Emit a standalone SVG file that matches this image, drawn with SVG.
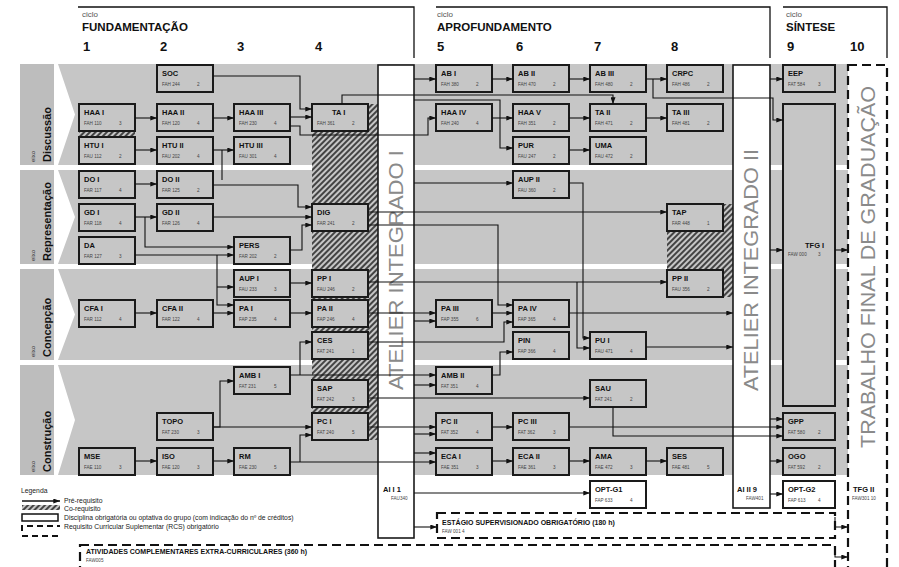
<svg xmlns="http://www.w3.org/2000/svg" width="899" height="567" viewBox="0 0 899 567">
<defs>
<marker id="a" viewBox="0 0 8 6" refX="8" refY="3" markerWidth="7" markerHeight="5" markerUnits="userSpaceOnUse" orient="auto"><path d="M0,0L8,3L0,6z" fill="#111"/></marker>
<pattern id="h" width="4" height="4" patternUnits="userSpaceOnUse" patternTransform="rotate(45)"><rect width="4" height="4" fill="#c6c6c6"/><line x1="1" y1="0" x2="1" y2="4" stroke="#222" stroke-width="1.6"/></pattern>
</defs>
<style>
.band{fill:#c6c6c6}
.lab{fill:#bdbdbd}
.n rect{fill:#c6c6c6;stroke:#1a1a1a;stroke-width:2}
.n.w rect{fill:#fff}
.t{font-family:"Liberation Sans",Arial,sans-serif;font-weight:bold;font-size:7.5px;fill:#111}
.c{font-family:"Liberation Sans",Arial,sans-serif;font-size:4.6px;fill:#444}
.hd{font-family:"Liberation Sans",Arial,sans-serif;fill:#111}
.cy{font-size:8px;fill:#555}
.cn{font-size:11.5px;font-weight:bold}
.num{font-size:13px;font-weight:bold}
.ex{font-family:"Liberation Sans",Arial,sans-serif;font-size:6px;fill:#333}
.ax{font-family:"Liberation Sans",Arial,sans-serif;font-size:11px;font-weight:bold;fill:#111}
.big{font-family:"Liberation Sans",Arial,sans-serif;font-size:21px;fill:#8a8a8a}
.at rect{fill:#fff;stroke:#1a1a1a;stroke-width:1.6}
.e path{fill:none;stroke:#111;stroke-width:1.1;marker-end:url(#a)}
.e path.nm{marker-end:none}
.dash{fill:none;stroke:#111;stroke-width:2.2;stroke-dasharray:9,5}
.lg{font-family:"Liberation Sans",Arial,sans-serif;font-size:6.8px;fill:#222}
.bt{font-family:"Liberation Sans",Arial,sans-serif;font-weight:bold;font-size:7px;fill:#111}
</style>
<rect width="899" height="567" fill="#fff"/>

<!-- headers -->
<g id="headers" class="hd">
<path d="M78,7H414V58M436,7H770V58M783,7H887V58" fill="none" stroke="#111" stroke-width="1.3"/>
<text x="82" y="17" class="hd cy">ciclo</text>
<text x="82" y="31" class="hd cn">FUNDAMENTAÇÃO</text>
<text x="437" y="17" class="hd cy">ciclo</text>
<text x="437" y="31" class="hd cn">APROFUNDAMENTO</text>
<text x="786" y="17" class="hd cy">ciclo</text>
<text x="786" y="31" class="hd cn">SÍNTESE</text>
<text x="83" y="51" class="hd num">1</text>
<text x="160" y="51" class="hd num">2</text>
<text x="237" y="51" class="hd num">3</text>
<text x="315" y="51" class="hd num">4</text>
<text x="437" y="51" class="hd num">5</text>
<text x="516" y="51" class="hd num">6</text>
<text x="594" y="51" class="hd num">7</text>
<text x="671" y="51" class="hd num">8</text>
<text x="787" y="51" class="hd num">9</text>
<text x="850" y="51" class="hd num">10</text>
</g>

<!-- bands -->
<g id="bands">
<rect class="lab" x="20" y="64" width="34" height="101"/>
<polygon class="band" points="58,64 848,64 848,165 58,165 75,114.5"/>
<rect class="lab" x="20" y="170" width="34" height="94"/>
<polygon class="band" points="58,170 848,170 848,264 58,264 75,217"/>
<rect class="lab" x="20" y="269" width="34" height="91"/>
<polygon class="band" points="58,269 848,269 848,360 58,360 75,314.5"/>
<rect class="lab" x="20" y="365" width="34" height="110"/>
<polygon class="band" points="58,365 848,365 848,475 58,475 75,420"/>
<text class="ex" transform="translate(35,162) rotate(-90)">eixo</text>
<text class="ax" transform="translate(51,162) rotate(-90)">Discussão</text>
<text class="ex" transform="translate(35,261) rotate(-90)">eixo</text>
<text class="ax" transform="translate(51,261) rotate(-90)">Representação</text>
<text class="ex" transform="translate(35,357) rotate(-90)">eixo</text>
<text class="ax" transform="translate(51,357) rotate(-90)">Concepção</text>
<text class="ex" transform="translate(35,472) rotate(-90)">eixo</text>
<text class="ax" transform="translate(51,472) rotate(-90)">Construção</text>
</g>

<!-- co-requisite hatches -->
<g id="hatches">
<rect x="79" y="131" width="56" height="6" fill="url(#h)"/>
<rect x="312" y="104" width="66" height="336" fill="url(#h)"/>
<rect x="667" y="204" width="66" height="93" fill="url(#h)"/>
</g>

<!-- ateliers and TFG frame -->
<g id="atelier1" class="at">
<rect x="378" y="65" width="36" height="473"/>
<text class="big" text-anchor="middle" transform="translate(403,270) rotate(-90)" textLength="240" lengthAdjust="spacingAndGlyphs">ATELIER INTEGRADO I</text>
<text class="t" x="383" y="492">AI I 1</text>
<text class="c" x="391" y="500">FAU340</text>
</g>
<g id="atelier2" class="at">
<rect x="733" y="65" width="37" height="443"/>
<text class="big" text-anchor="middle" transform="translate(758,270) rotate(-90)" textLength="242" lengthAdjust="spacingAndGlyphs">ATELIER INTEGRADO II</text>
<text class="t" x="737" y="492">AI II 9</text>
<text class="c" x="746" y="500">FAW401</text>
</g>
<g id="tfg">
<rect x="848" y="65" width="39" height="510" class="dash"/>
<text class="big" font-size="22" text-anchor="middle" transform="translate(875,267) rotate(-90)" textLength="362" lengthAdjust="spacingAndGlyphs">TRABALHO FINAL DE GRADUAÇÃO</text>
<text class="t" x="853" y="492">TFG II</text>
<text class="c" x="852" y="500">FAW301 10</text>
</g>

<!-- supplementary requirements -->
<g id="estagio">
<rect x="437" y="513" width="398" height="25" class="dash"/>
<text class="bt" x="442" y="525">ESTÁGIO SUPERVISIONADO OBRIGATÓRIO (180 h)</text>
<text class="c" x="442" y="533">FAW 001      4</text>
</g>
<g id="atividades">
<rect x="80" y="545" width="755" height="30" class="dash"/>
<text class="bt" x="86" y="554">ATIVIDADES COMPLEMENTARES EXTRA-CURRICULARES (360 h)</text>
<text class="c" x="86" y="562">FAW005</text>
</g>

<!-- nodes -->
<g id="SOC" class="n"><rect x="157" y="65" width="56" height="27"/><text class="t" x="162" y="76">SOC</text><text class="c" x="162" y="86">FAH 244</text><text class="c" x="197" y="86">2</text></g>
<g id="HAA1" class="n"><rect x="79" y="104" width="56" height="27"/><text class="t" x="84" y="115">HAA I</text><text class="c" x="84" y="125">FAH 110</text><text class="c" x="119" y="125">3</text></g>
<g id="HAA2" class="n"><rect x="157" y="104" width="56" height="27"/><text class="t" x="162" y="115">HAA II</text><text class="c" x="162" y="125">FAH 120</text><text class="c" x="197" y="125">4</text></g>
<g id="HAA3" class="n"><rect x="234" y="104" width="56" height="27"/><text class="t" x="239" y="115">HAA III</text><text class="c" x="239" y="125">FAH 230</text><text class="c" x="274" y="125">4</text></g>
<g id="TA1" class="n"><rect x="312" y="104" width="56" height="27"/><text class="t" x="332" y="115">TA I</text><text class="c" x="317" y="125">FAH 361</text><text class="c" x="352" y="125">2</text></g>
<g id="HTU1" class="n"><rect x="79" y="137" width="56" height="27"/><text class="t" x="84" y="148">HTU I</text><text class="c" x="84" y="158">FAU 112</text><text class="c" x="119" y="158">2</text></g>
<g id="HTU2" class="n"><rect x="157" y="137" width="56" height="27"/><text class="t" x="162" y="148">HTU II</text><text class="c" x="162" y="158">FAU 202</text><text class="c" x="197" y="158">4</text></g>
<g id="HTU3" class="n"><rect x="234" y="137" width="56" height="27"/><text class="t" x="239" y="148">HTU III</text><text class="c" x="239" y="158">FAU 301</text><text class="c" x="274" y="158">4</text></g>
<g id="DO1" class="n"><rect x="79" y="171" width="56" height="27"/><text class="t" x="84" y="182">DO I</text><text class="c" x="84" y="192">FAR 117</text><text class="c" x="119" y="192">4</text></g>
<g id="DO2" class="n"><rect x="157" y="171" width="56" height="27"/><text class="t" x="162" y="182">DO II</text><text class="c" x="162" y="192">FAR 125</text><text class="c" x="197" y="192">2</text></g>
<g id="GD1" class="n"><rect x="79" y="204" width="56" height="27"/><text class="t" x="84" y="215">GD I</text><text class="c" x="84" y="225">FAR 118</text><text class="c" x="119" y="225">4</text></g>
<g id="GD2" class="n"><rect x="157" y="204" width="56" height="27"/><text class="t" x="162" y="215">GD II</text><text class="c" x="162" y="225">FAR 126</text><text class="c" x="197" y="225">4</text></g>
<g id="DA" class="n"><rect x="79" y="237" width="56" height="27"/><text class="t" x="84" y="248">DA</text><text class="c" x="84" y="258">FAR 127</text><text class="c" x="119" y="258">3</text></g>
<g id="PERS" class="n"><rect x="234" y="237" width="56" height="27"/><text class="t" x="239" y="248">PERS</text><text class="c" x="239" y="258">FAR 202</text><text class="c" x="274" y="258">2</text></g>
<g id="DIG" class="n"><rect x="312" y="204" width="56" height="27"/><text class="t" x="317" y="215">DIG</text><text class="c" x="317" y="225">FAR 241</text><text class="c" x="352" y="225">2</text></g>
<g id="AUP1" class="n"><rect x="234" y="270" width="56" height="27"/><text class="t" x="239" y="281">AUP I</text><text class="c" x="239" y="291">FAU 233</text><text class="c" x="274" y="291">3</text></g>
<g id="PP1" class="n"><rect x="312" y="270" width="56" height="27"/><text class="t" x="317" y="281">PP I</text><text class="c" x="317" y="291">FAU 246</text><text class="c" x="352" y="291">2</text></g>
<g id="CFA1" class="n"><rect x="79" y="300" width="56" height="27"/><text class="t" x="84" y="311">CFA I</text><text class="c" x="84" y="321">FAR 112</text><text class="c" x="119" y="321">4</text></g>
<g id="CFA2" class="n"><rect x="157" y="300" width="56" height="27"/><text class="t" x="162" y="311">CFA II</text><text class="c" x="162" y="321">FAR 122</text><text class="c" x="197" y="321">4</text></g>
<g id="PA1" class="n"><rect x="234" y="300" width="56" height="27"/><text class="t" x="239" y="311">PA I</text><text class="c" x="239" y="321">FAP 235</text><text class="c" x="274" y="321">4</text></g>
<g id="PA2" class="n"><rect x="312" y="300" width="56" height="27"/><text class="t" x="317" y="311">PA II</text><text class="c" x="317" y="321">FAP 246</text><text class="c" x="352" y="321">4</text></g>
<g id="CES" class="n"><rect x="312" y="332" width="56" height="27"/><text class="t" x="317" y="343">CES</text><text class="c" x="317" y="353">FAT 241</text><text class="c" x="352" y="353">1</text></g>
<g id="AMB1" class="n"><rect x="234" y="367" width="56" height="27"/><text class="t" x="239" y="378">AMB I</text><text class="c" x="239" y="388">FAT 231</text><text class="c" x="274" y="388">5</text></g>
<g id="SAP" class="n"><rect x="312" y="380" width="56" height="27"/><text class="t" x="317" y="391">SAP</text><text class="c" x="317" y="401">FAT 242</text><text class="c" x="352" y="401">3</text></g>
<g id="TOPO" class="n"><rect x="157" y="413" width="56" height="27"/><text class="t" x="162" y="424">TOPO</text><text class="c" x="162" y="434">FAT 230</text><text class="c" x="197" y="434">3</text></g>
<g id="PC1" class="n"><rect x="312" y="413" width="56" height="27"/><text class="t" x="317" y="424">PC I</text><text class="c" x="317" y="434">FAT 240</text><text class="c" x="352" y="434">5</text></g>
<g id="MSE" class="n"><rect x="79" y="448" width="56" height="27"/><text class="t" x="84" y="459">MSE</text><text class="c" x="84" y="469">FAE 110</text><text class="c" x="119" y="469">3</text></g>
<g id="ISO" class="n"><rect x="157" y="448" width="56" height="27"/><text class="t" x="162" y="459">ISO</text><text class="c" x="162" y="469">FAE 120</text><text class="c" x="197" y="469">3</text></g>
<g id="RM" class="n"><rect x="234" y="448" width="56" height="27"/><text class="t" x="239" y="459">RM</text><text class="c" x="239" y="469">FAE 230</text><text class="c" x="274" y="469">5</text></g>
<g id="AB1" class="n"><rect x="436" y="65" width="56" height="27"/><text class="t" x="441" y="76">AB I</text><text class="c" x="441" y="86">FAH 380</text><text class="c" x="476" y="86">2</text></g>
<g id="AB2" class="n"><rect x="513" y="65" width="56" height="27"/><text class="t" x="518" y="76">AB II</text><text class="c" x="518" y="86">FAH 470</text><text class="c" x="553" y="86">2</text></g>
<g id="AB3" class="n"><rect x="590" y="65" width="56" height="27"/><text class="t" x="595" y="76">AB III</text><text class="c" x="595" y="86">FAH 480</text><text class="c" x="630" y="86">2</text></g>
<g id="CRPC" class="n"><rect x="667" y="65" width="56" height="27"/><text class="t" x="672" y="76">CRPC</text><text class="c" x="672" y="86">FAH 486</text><text class="c" x="707" y="86">2</text></g>
<g id="HAA4" class="n"><rect x="436" y="104" width="56" height="27"/><text class="t" x="441" y="115">HAA IV</text><text class="c" x="441" y="125">FAH 240</text><text class="c" x="476" y="125">4</text></g>
<g id="HAA5" class="n"><rect x="513" y="104" width="56" height="27"/><text class="t" x="518" y="115">HAA V</text><text class="c" x="518" y="125">FAH 351</text><text class="c" x="553" y="125">2</text></g>
<g id="TA2" class="n"><rect x="590" y="104" width="56" height="27"/><text class="t" x="595" y="115">TA II</text><text class="c" x="595" y="125">FAH 471</text><text class="c" x="630" y="125">2</text></g>
<g id="TA3" class="n"><rect x="667" y="104" width="56" height="27"/><text class="t" x="672" y="115">TA III</text><text class="c" x="672" y="125">FAH 481</text><text class="c" x="707" y="125">2</text></g>
<g id="PUR" class="n"><rect x="513" y="137" width="56" height="27"/><text class="t" x="518" y="148">PUR</text><text class="c" x="518" y="158">FAU 247</text><text class="c" x="553" y="158">2</text></g>
<g id="UMA" class="n"><rect x="590" y="137" width="56" height="27"/><text class="t" x="595" y="148">UMA</text><text class="c" x="595" y="158">FAU 472</text><text class="c" x="630" y="158">2</text></g>
<g id="AUP2" class="n"><rect x="513" y="171" width="56" height="27"/><text class="t" x="518" y="182">AUP II</text><text class="c" x="518" y="192">FAU 360</text><text class="c" x="553" y="192">2</text></g>
<g id="TAP" class="n"><rect x="667" y="204" width="56" height="27"/><text class="t" x="672" y="215">TAP</text><text class="c" x="672" y="225">FAR 448</text><text class="c" x="707" y="225">1</text></g>
<g id="PP2" class="n"><rect x="667" y="270" width="56" height="27"/><text class="t" x="672" y="281">PP II</text><text class="c" x="672" y="291">FAU 356</text><text class="c" x="707" y="291">2</text></g>
<g id="PA3" class="n"><rect x="436" y="300" width="56" height="27"/><text class="t" x="441" y="311">PA III</text><text class="c" x="441" y="321">FAP 355</text><text class="c" x="476" y="321">6</text></g>
<g id="PA4" class="n"><rect x="513" y="300" width="56" height="27"/><text class="t" x="518" y="311">PA IV</text><text class="c" x="518" y="321">FAP 365</text><text class="c" x="553" y="321">4</text></g>
<g id="PIN" class="n"><rect x="513" y="332" width="56" height="27"/><text class="t" x="518" y="343">PIN</text><text class="c" x="518" y="353">FAP 366</text><text class="c" x="553" y="353">4</text></g>
<g id="PU1" class="n"><rect x="590" y="332" width="56" height="27"/><text class="t" x="595" y="343">PU I</text><text class="c" x="595" y="353">FAU 471</text><text class="c" x="630" y="353">4</text></g>
<g id="AMB2" class="n"><rect x="436" y="367" width="56" height="27"/><text class="t" x="441" y="378">AMB II</text><text class="c" x="441" y="388">FAT 351</text><text class="c" x="476" y="388">4</text></g>
<g id="SAU" class="n"><rect x="590" y="380" width="56" height="27"/><text class="t" x="595" y="391">SAU</text><text class="c" x="595" y="401">FAT 241</text><text class="c" x="630" y="401">2</text></g>
<g id="PC2" class="n"><rect x="436" y="413" width="56" height="27"/><text class="t" x="441" y="424">PC II</text><text class="c" x="441" y="434">FAT 352</text><text class="c" x="476" y="434">4</text></g>
<g id="PC3" class="n"><rect x="513" y="413" width="56" height="27"/><text class="t" x="518" y="424">PC III</text><text class="c" x="518" y="434">FAT 362</text><text class="c" x="553" y="434">3</text></g>
<g id="ECA1" class="n"><rect x="436" y="448" width="56" height="27"/><text class="t" x="441" y="459">ECA I</text><text class="c" x="441" y="469">FAE 351</text><text class="c" x="476" y="469">3</text></g>
<g id="ECA2" class="n"><rect x="513" y="448" width="56" height="27"/><text class="t" x="518" y="459">ECA II</text><text class="c" x="518" y="469">FAE 361</text><text class="c" x="553" y="469">3</text></g>
<g id="AMA" class="n"><rect x="590" y="448" width="56" height="27"/><text class="t" x="595" y="459">AMA</text><text class="c" x="595" y="469">FAE 472</text><text class="c" x="630" y="469">3</text></g>
<g id="SES" class="n"><rect x="667" y="448" width="56" height="27"/><text class="t" x="672" y="459">SES</text><text class="c" x="672" y="469">FAE 481</text><text class="c" x="707" y="469">5</text></g>
<g id="OPTG1" class="n w"><rect x="590" y="481" width="56" height="27"/><text class="t" x="595" y="492">OPT-G1</text><text class="c" x="595" y="502">FAP 633</text><text class="c" x="630" y="502">4</text></g>
<g id="EEP" class="n"><rect x="783" y="65" width="52" height="27"/><text class="t" x="788" y="76">EEP</text><text class="c" x="788" y="86">FAT 584</text><text class="c" x="818" y="86">3</text></g>
<g id="TFG1" class="n"><rect x="783" y="104" width="52" height="302"/><text class="t" x="805" y="248">TFG I</text><text class="c" x="788" y="256">FAW 000</text><text class="c" x="818" y="256">3</text></g>
<g id="GPP" class="n"><rect x="783" y="413" width="52" height="27"/><text class="t" x="788" y="424">GPP</text><text class="c" x="788" y="434">FAT 580</text><text class="c" x="818" y="434">2</text></g>
<g id="OGO" class="n"><rect x="783" y="448" width="52" height="27"/><text class="t" x="788" y="459">OGO</text><text class="c" x="788" y="469">FAT 592</text><text class="c" x="818" y="469">2</text></g>
<g id="OPTG2" class="n w"><rect x="783" y="481" width="52" height="27"/><text class="t" x="788" y="492">OPT-G2</text><text class="c" x="788" y="502">FAP 613</text><text class="c" x="818" y="502">4</text></g>

<!-- connectors -->
<g id="connectors" class="e">
<path d="M213,76H300V109H312"/>
<path d="M135,118H157"/>
<path d="M213,118H234"/>
<path d="M290,117H312"/>
<path d="M290,126H300V135H428V118H436"/>
<path d="M342,104V95H613V104"/>
<path d="M135,150H157"/>
<path d="M213,150H234"/>
<path class="nm" d="M222,150V180"/>
<path d="M135,184H157"/>
<path d="M213,185H298V207H312"/>
<path d="M135,217H157"/>
<path d="M145,217V247H234"/>
<path d="M213,217H312"/>
<path d="M135,255H234"/>
<path d="M217,255V305H234"/>
<path d="M217,287H234"/>
<path d="M290,250H302V225H312"/>
<path d="M290,283H312"/>
<path d="M135,313H157"/>
<path d="M213,313H234"/>
<path d="M290,313H312"/>
<path d="M300,375V342H312"/>
<path d="M290,375H436"/>
<path d="M213,427H220V381H234"/>
<path d="M213,427H312"/>
<path d="M135,461H157"/>
<path d="M213,461H234"/>
<path d="M290,462H436"/>
<path d="M300,462V435H312"/>
<path d="M368,212H667"/>
<path d="M368,225H498V305H513"/>
<path d="M368,282H667"/>
<path d="M368,313H436"/>
<path d="M368,342H504V322H513"/>
<path d="M368,398H590"/>
<path d="M368,427H436"/>
<path d="M414,79H436"/>
<path d="M414,100H500V148H513"/>
<path d="M492,118H513"/>
<path d="M414,183H513"/>
<path d="M414,321H436"/>
<path d="M414,385H436"/>
<path d="M414,434H436"/>
<path d="M414,453H436"/>
<path d="M414,493H590"/>
<path d="M414,527H437"/>
<path d="M492,79H513"/>
<path d="M569,79H590"/>
<path d="M646,79H667"/>
<path d="M653,79V98H773V120H783"/>
<path d="M569,118H590"/>
<path d="M646,118H667"/>
<path d="M569,150H590"/>
<path d="M492,313H513"/>
<path d="M492,375H500V352H513"/>
<path d="M569,183H583V338H590"/>
<path d="M577,282V348H590"/>
<path d="M569,313H733"/>
<path d="M646,347H733"/>
<path d="M492,427H513"/>
<path d="M569,427H783"/>
<path d="M613,407V436H783"/>
<path d="M492,461H513"/>
<path d="M569,461H590"/>
<path d="M646,461H667"/>
<path d="M770,79H783"/>
<path d="M770,250H783"/>
<path d="M770,419H783"/>
<path d="M770,461H783"/>
<path d="M770,494H783"/>
<path d="M835,250H848"/>
<path d="M835,517V527H848"/>
<path d="M835,548V557H848"/>
</g>

<!-- legend -->
<g id="legend">
<text class="lg" x="21" y="493" font-size="9">Legenda</text>
<path d="M22,501H60" stroke="#111" stroke-width="1.3" marker-end="url(#a)"/>
<text class="lg" x="64" y="503">Pré-requisito</text>
<rect x="22" y="505" width="38" height="5" fill="url(#h)"/>
<text class="lg" x="64" y="511">Co-requisito</text>
<rect x="22" y="514" width="36" height="7" fill="#fff" stroke="#111" stroke-width="1.5"/>
<text class="lg" x="64" y="520">Disciplina obrigatória ou optativa do grupo (com indicação do nº de créditos)</text>
<path d="M22,531V526H60M22,536H60" fill="none" stroke="#111" stroke-width="2" stroke-dasharray="6,4"/>
<text class="lg" x="64" y="529">Requisito Curricular Suplementar (RCS) obrigatório</text>
</g>
</svg>
